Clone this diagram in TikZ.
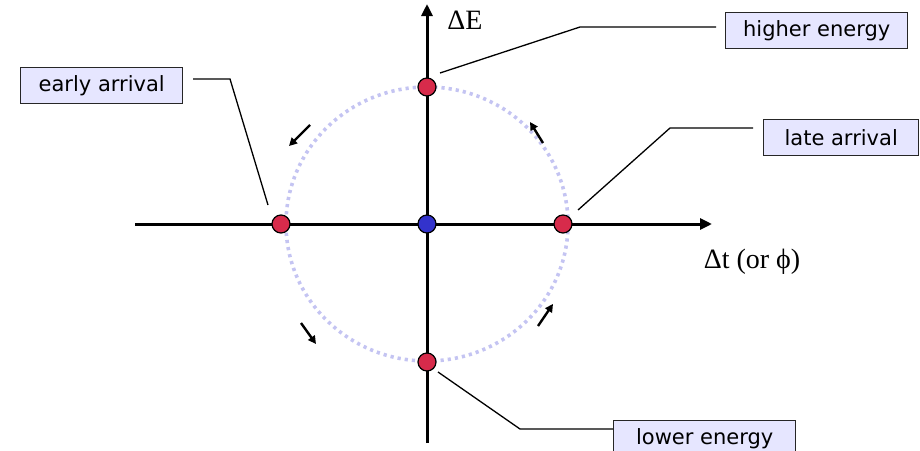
\documentclass[tikz,border=0pt]{standalone}
\usepackage{fontspec}
\setmainfont{Liberation Serif}
\newfontfamily\labfont{DejaVu Sans}
\usetikzlibrary{arrows.meta}
\definecolor{boxfill}{HTML}{E6E6FF}
\definecolor{ringcol}{HTML}{C4C4F2}
\definecolor{dotred}{HTML}{D72B4B}
\definecolor{dotblue}{HTML}{3333CC}
\tikzset{
  lab/.style={draw=black!85, line width=1.4pt, fill=boxfill, font=\labfont\fontsize{21}{23}\selectfont, inner xsep=4pt, inner ysep=0pt, minimum height=36pt, anchor=north west},
  axis/.style={line width=3pt, -{Triangle[length=12pt,width=11pt]}},
  dot/.style={circle, draw=black, line width=1.2pt, minimum size=18pt, inner sep=0pt},
  lead/.style={line width=1.3pt},
  flow/.style={line width=2.4pt, -{Triangle[length=8pt,width=8pt]}},
  axlab/.style={font=\fontsize{28}{30}\selectfont, inner sep=0pt},
}
\begin{document}
\begin{tikzpicture}[x=1pt,y=-1pt]
\useasboundingbox (0,0) rectangle (920,450);
% ring
\draw[ringcol, line width=3.6pt, dash pattern=on 3.2pt off 4pt] (427,224) ellipse [x radius=141, y radius=137];
% axes
\coordinate (xl) at (135,224);
\coordinate (xr) at (712,224);
\coordinate (yb) at (427,443);
\coordinate (yt) at (427,4);
\draw[axis] (xl) -- (xr);
\draw[axis] (yb) -- (yt);
% dots
\node[dot, fill=dotred] (top) at (427,87) {};
\node[dot, fill=dotred] (bot) at (427,362) {};
\node[dot, fill=dotred] (lft) at (281,224) {};
\node[dot, fill=dotred] (rgt) at (563,224) {};
\node[dot, fill=dotblue] (ctr) at (427,224) {};
% axis labels
\node[axlab] (dE) at (465,20) {ΔE};
\node[axlab] (dt) at (752,262) {Δt (or ϕ)};
% boxes
\node[lab, minimum width=182pt] (he) at (725,12) {higher energy};
\node[lab, minimum width=162pt] (ea) at (20,67) {early arrival};
\node[lab, minimum width=155pt] (la) at (763,119) {late arrival};
\node[lab, minimum width=182pt] (le) at (613,420) {lower energy};
% leaders
\coordinate (heA) at (440,73);
\coordinate (heB) at (580,27);
\coordinate (heC) at (716,27);
\draw[lead] (heA) -- (heB) -- (heC);
\coordinate (eaA) at (268,205);
\coordinate (eaB) at (230,79);
\coordinate (eaC) at (193,79);
\draw[lead] (eaA) -- (eaB) -- (eaC);
\coordinate (laA) at (578,210);
\coordinate (laB) at (670,128);
\coordinate (laC) at (753,128);
\draw[lead] (laA) -- (laB) -- (laC);
\coordinate (leA) at (438,372);
\coordinate (leB) at (520,429);
\draw[lead] (leA) -- (leB) -- (leB -| le.west);
% flow arrows
\coordinate (f1a) at (543,143); \coordinate (f1b) at (530,122);
\coordinate (f2a) at (310,125); \coordinate (f2b) at (289,146);
\coordinate (f3a) at (301,323); \coordinate (f3b) at (316,344);
\coordinate (f4a) at (538,326); \coordinate (f4b) at (553,304);
\draw[flow] (f1a) -- (f1b);
\draw[flow] (f2a) -- (f2b);
\draw[flow] (f3a) -- (f3b);
\draw[flow] (f4a) -- (f4b);
\end{tikzpicture}
\end{document}
